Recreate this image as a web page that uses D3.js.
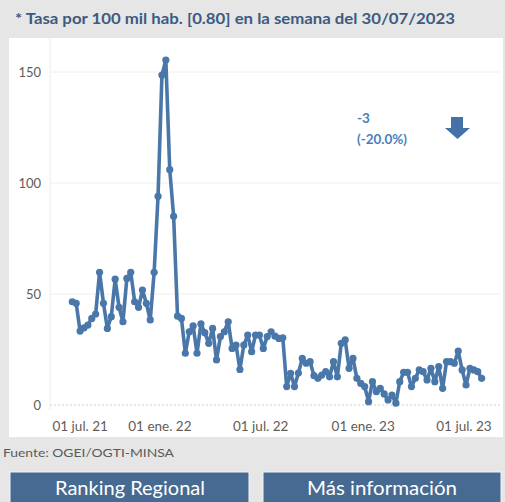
<!DOCTYPE html>
<html>
<head>
<meta charset="utf-8">
<script src="https://cdn.jsdelivr.net/npm/d3@7"></script>
<style>
  body { margin: 0; background: #e6e6e6; }
  svg { display: block; font-family: Lato, 'Open Sans', sans-serif; }
</style>
</head>
<body>
<svg id="chart" width="505" height="502"></svg>
<script>
// weekly rate per 100k, one value per week (Sundays) starting here
const firstWeek = '2021-07-25'
const rates = [
  46.5, 45.8, 33.3, 34.7, 36, 39, 41, 59.8, 45.8, 34.5,
  39.8, 56.7, 44, 37.5, 57, 59.8, 46.5, 44, 51.8, 45.8,
  38.3, 59.8, 94, 148.6, 155.4, 106, 85, 40, 39, 23.3,
  33, 35.6, 23.3, 36.5, 32.6, 27.8, 34.5, 20.3, 30.8, 33,
  37.5, 25.5, 27, 16, 27, 31.5, 24, 31.5, 31.5, 25.5,
  30.8, 33, 31, 30, 30.3, 8.3, 14.3, 8.3, 14.4, 21,
  18.8, 19.5, 13.2, 12, 13.5, 15, 12.7, 19.5, 12.7, 27.8,
  29.3, 16.5, 21, 12, 9.7, 8.3, 1.5, 10.5, 6, 7.5,
  5, 2.3, 4.5, 0.8, 10.5, 14.7, 14.7, 8.3, 12, 15.8,
  15, 11.3, 16.5, 10.5, 17.3, 7.5, 19.5, 19.5, 18.8, 24.3,
  15.8, 9, 16.5, 15.8, 15, 12
]
const tickDates = ['2021-07-01', '2022-01-01', '2022-07-01', '2023-01-01', '2023-07-01']
const yTicks = [0, 50, 100, 150]
const titleText = '* Tasa por 100 mil hab. [0.80] en la semana del 30/07/2023'
const changeValue = '-3'
const changePct = '(-20.0%)'
const sourceText = 'Fuente: OGEI/OGTI-MINSA'
const buttonLabels = ['Ranking Regional', 'Más información']

const parse = d3.timeParse('%Y-%m-%d')
const es = d3.timeFormatLocale({
  dateTime: '%x, %X', date: '%d/%m/%Y', time: '%H:%M:%S', periods: ['AM', 'PM'],
  days: ['domingo', 'lunes', 'martes', 'miércoles', 'jueves', 'viernes', 'sábado'],
  shortDays: ['dom', 'lun', 'mar', 'mié', 'jue', 'vie', 'sáb'],
  months: ['enero', 'febrero', 'marzo', 'abril', 'mayo', 'junio', 'julio', 'agosto', 'septiembre', 'octubre', 'noviembre', 'diciembre'],
  shortMonths: ['ene.', 'feb.', 'mar.', 'abr.', 'may.', 'jun.', 'jul.', 'ago.', 'sept.', 'oct.', 'nov.', 'dic.']
})

const start = parse(firstWeek)
const data = rates.map((v, i) => ({ date: d3.timeWeek.offset(start, i), value: v }))

const svg = d3.select('#chart')
const lineColor = '#4a77a9'

// panel
svg.append('rect').attr('x', 9).attr('y', 38).attr('width', 494).attr('height', 399).attr('fill', '#fff')

svg.append('text')
  .attr('x', 15).attr('y', 24)
  .attr('font-size', 14.5).attr('font-weight', 'bold')
  .attr('fill', '#3b5b82')
  .attr('textLength', 440).attr('lengthAdjust', 'spacingAndGlyphs')
  .text(titleText)

const x = d3.scaleTime()
  .domain([parse('2021-06-15'), parse('2023-09-01')])
  .range([50, 500])

const y = d3.scaleLinear()
  .domain([0, 150])
  .range([405, 72])

// y axis line
svg.append('line')
  .attr('x1', 50).attr('x2', 50).attr('y1', 38).attr('y2', 410)
  .attr('stroke', '#ececec')

// grid
svg.selectAll('.grid')
  .data(yTicks.filter(d => d > 0))
  .enter()
  .append('line')
  .attr('class', 'grid')
  .attr('x1', 50).attr('x2', 500)
  .attr('y1', d => y(d)).attr('y2', d => y(d))
  .attr('stroke', '#eeeeee')

svg.append('line')
  .attr('x1', 50).attr('x2', 500)
  .attr('y1', y(0)).attr('y2', y(0))
  .attr('stroke', '#d2d2d2')
  .attr('stroke-dasharray', '2,2')

const yAxis = svg.append('g')
  .attr('transform', 'translate(50,0)')
  .call(d3.axisLeft(y).tickValues(yTicks).tickSize(0).tickPadding(9))
yAxis.select('.domain').remove()
yAxis.selectAll('text')
  .attr('font-family', 'Lato, sans-serif')
  .attr('font-size', 13)
  .attr('fill', '#615c56')

const xAxis = svg.append('g')
  .attr('transform', 'translate(0,' + y(0) + ')')
  .call(d3.axisBottom(x)
    .tickValues(tickDates.map(parse))
    .tickSize(0)
    .tickPadding(16)
    .tickFormat(es.format('%d %b %y')))
xAxis.select('.domain').remove()
xAxis.selectAll('text')
  .attr('font-family', 'Lato, sans-serif')
  .attr('font-size', 13.5)
  .attr('fill', '#615c56')
  .attr('dx', -2)
// first label pushed inside the plot
xAxis.select('.tick text')
  .attr('text-anchor', 'start')
  .attr('x', 52 - x(parse(tickDates[0])))
  .attr('dx', 0)

// series
const line = d3.line()
  .x(d => x(d.date))
  .y(d => y(d.value))

svg.append('path')
  .datum(data)
  .attr('d', line)
  .attr('fill', 'none')
  .attr('stroke', lineColor)
  .attr('stroke-width', 3.6)
  .attr('stroke-linejoin', 'round')

svg.selectAll('.dot')
  .data(data)
  .enter()
  .append('circle')
  .attr('class', 'dot')
  .attr('cx', d => x(d.date))
  .attr('cy', d => y(d.value))
  .attr('r', 3.6)
  .attr('fill', lineColor)

// change annotation
svg.append('text')
  .attr('x', 357).attr('y', 123)
  .attr('font-size', 13.5).attr('font-weight', 'bold').attr('fill', '#4a7ebb')
  .text(changeValue)
svg.append('text')
  .attr('x', 357).attr('y', 144)
  .attr('font-size', 13.5).attr('font-weight', 'bold').attr('fill', '#4a7ebb')
  .attr('textLength', 50).attr('lengthAdjust', 'spacingAndGlyphs')
  .text(changePct)
svg.append('path')
  .attr('d', 'M451,117 L463,117 L463,128 L470,128 L457.5,139 L445,128 L451,128 Z')
  .attr('fill', '#4471a7')

// source
svg.append('text')
  .attr('x', 3).attr('y', 457)
  .attr('font-size', 11.5).attr('fill', '#5a5a5a')
  .attr('textLength', 171).attr('lengthAdjust', 'spacingAndGlyphs')
  .text(sourceText)

// buttons
const btn = svg.selectAll('.btn')
  .data(buttonLabels)
  .enter()
  .append('g')
  .attr('class', 'btn')
  .attr('transform', (d, i) => 'translate(' + (i ? 263 : 10) + ',472)')

btn.append('rect')
  .attr('width', (d, i) => i ? 238 : 239)
  .attr('height', 36)
  .attr('fill', '#466a92')
  .attr('stroke', '#f4f4f4')

btn.append('text')
  .attr('x', (d, i) => i ? 119 : 120)
  .attr('y', 23)
  .attr('text-anchor', 'middle')
  .attr('font-size', 19.5)
  .attr('fill', '#fff')
  .attr('textLength', 150).attr('lengthAdjust', 'spacingAndGlyphs')
  .text(d => d)
</script>
</body>
</html>
